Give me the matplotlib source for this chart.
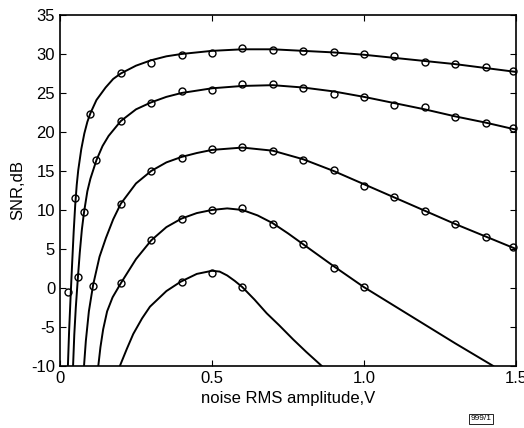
import matplotlib
matplotlib.use("Agg")
import matplotlib.pyplot as plt

plt.rcParams["font.family"] = ["Liberation Sans", "DejaVu Sans"]
plt.rcParams["axes.unicode_minus"] = False

# fitted curves
c1_x = [0.026, 0.030, 0.035, 0.040, 0.045, 0.050, 0.055, 0.060, 0.070, 0.080, 0.090,
        0.100, 0.120, 0.150, 0.175, 0.200, 0.250, 0.300, 0.350, 0.400, 0.500, 0.600,
        0.700, 0.800, 0.900, 1.000, 1.100, 1.200, 1.300, 1.400, 1.500]
c1_y = [-10, -5.5, -1.0, 3.2, 7.2, 10.6, 13.2, 15.1, 17.8, 19.8, 21.3,
        22.4, 24.1, 25.7, 26.8, 27.5, 28.5, 29.2, 29.7, 30.0, 30.4, 30.6,
        30.6, 30.4, 30.2, 29.9, 29.5, 29.1, 28.7, 28.2, 27.7]
c2_x = [0.043, 0.047, 0.052, 0.059, 0.065, 0.072, 0.079, 0.090, 0.100, 0.120, 0.140,
        0.160, 0.200, 0.250, 0.300, 0.350, 0.400, 0.500, 0.600, 0.700, 0.800, 0.900,
        1.000, 1.100, 1.200, 1.300, 1.400, 1.500]
c2_y = [-10, -6.0, -2.5, 1.4, 4.5, 7.5, 9.7, 12.4, 14.0, 16.4, 18.2,
        19.5, 21.4, 22.9, 23.8, 24.5, 25.0, 25.6, 25.9, 26.0, 25.7, 25.2,
        24.5, 23.7, 22.9, 22.0, 21.2, 20.3]
c3_x = [0.079, 0.085, 0.095, 0.109, 0.130, 0.151, 0.175, 0.200, 0.250, 0.300, 0.350,
        0.400, 0.450, 0.500, 0.600, 0.700, 0.800, 0.900, 1.000, 1.100, 1.200, 1.300,
        1.400, 1.500]
c3_y = [-10, -6.8, -3.0, 0.4, 4.0, 6.4, 8.8, 10.8, 13.4, 15.0, 16.1,
        16.8, 17.3, 17.7, 18.0, 17.6, 16.5, 15.0, 13.3, 11.6, 9.9, 8.2,
        6.6, 5.0]
c4_x = [0.126, 0.133, 0.142, 0.155, 0.173, 0.200, 0.250, 0.300, 0.350, 0.400, 0.450,
        0.500, 0.550, 0.600, 0.650, 0.700, 0.750, 0.800, 0.900, 1.000, 1.100, 1.200,
        1.300, 1.425]
c4_y = [-10, -7.6, -5.3, -3.0, -1.2, 0.6, 3.7, 6.1, 7.8, 8.9, 9.6,
        10.0, 10.2, 10.0, 9.3, 8.3, 7.0, 5.6, 2.8, 0.1, -2.3, -4.7,
        -7.1, -10]
c5_x = [0.197, 0.220, 0.241, 0.270, 0.296, 0.350, 0.397, 0.450, 0.500, 0.525, 0.550,
        0.575, 0.600, 0.640, 0.680, 0.720, 0.767, 0.810, 0.861]
c5_y = [-10, -7.8, -5.9, -3.9, -2.4, -0.4, 0.8, 1.8, 2.2, 2.1, 1.6,
        0.9, 0.1, -1.5, -3.25, -4.75, -6.6, -8.2, -10]

# measured points
m1_x = [0.027, 0.05, 0.1, 0.2, 0.3, 0.4, 0.5, 0.6, 0.7, 0.8, 0.9, 1.0, 1.1, 1.2, 1.3, 1.4, 1.49]
m1_y = [-0.5, 11.5, 22.3, 27.5, 28.9, 29.9, 30.1, 30.8, 30.5, 30.4, 30.2, 30.0, 29.7, 29.0, 28.7, 28.3, 27.8]
m2_x = [0.059, 0.08, 0.12, 0.2, 0.3, 0.4, 0.5, 0.6, 0.7, 0.8, 0.9, 1.0, 1.1, 1.2, 1.3, 1.4, 1.49]
m2_y = [1.4, 9.7, 16.4, 21.4, 23.7, 25.3, 25.4, 26.1, 26.2, 25.7, 24.9, 24.5, 23.5, 23.2, 21.9, 21.1, 20.5]
m3_x = [0.11, 0.2, 0.3, 0.4, 0.5, 0.6, 0.7, 0.8, 0.9, 1.0, 1.1, 1.2, 1.3, 1.4, 1.49]
m3_y = [0.3, 10.8, 15.0, 16.7, 17.8, 18.1, 17.5, 16.4, 15.1, 13.1, 11.7, 9.9, 8.2, 6.5, 5.3]
m4_x = [0.2, 0.3, 0.4, 0.5, 0.6, 0.7, 0.8, 0.9, 1.0]
m4_y = [0.6, 6.2, 8.9, 10.0, 10.2, 8.2, 5.6, 2.6, 0.1]
m5_x = [0.4, 0.5, 0.6]
m5_y = [0.7, 1.9, 0.1]

x_ticks = [0, 0.5, 1.0, 1.5]
x_labels = ["0", "0.5", "1.0", "1.5"]
y_ticks = list(range(-10, 36, 5))

fig = plt.figure(figsize=(5.24, 4.28), dpi=100)
ax = fig.add_axes([0.1145, 0.145, 0.8702, 0.82])

for cx, cy in [(c1_x, c1_y), (c2_x, c2_y), (c3_x, c3_y), (c4_x, c4_y), (c5_x, c5_y)]:
    ax.plot(cx, cy, color="black", lw=1.4, solid_joinstyle="round")
for mx, my in [(m1_x, m1_y), (m2_x, m2_y), (m3_x, m3_y), (m4_x, m4_y), (m5_x, m5_y)]:
    ax.plot(mx, my, "o", mfc="none", mec="black", ms=5, mew=1.0, clip_on=False)

ax.set_xlim(0, 1.5)
ax.set_ylim(-10, 35)
ax.set_xticks(x_ticks)
ax.set_xticklabels(x_labels)
ax.set_yticks(y_ticks)
ax.tick_params(direction="in", top=True, right=True, labelsize=12, length=4)
for s in ax.spines.values():
    s.set_linewidth(1.2)
ax.set_xlabel("noise RMS amplitude,V", fontsize=12)
ax.set_ylabel("SNR,dB", fontsize=12)

fig.text(0.918, 0.013, "999/1", fontsize=6, ha="center", va="bottom",
         bbox=dict(boxstyle="square,pad=0.15", fc="white", ec="black", lw=0.6))

fig.savefig("out.png", dpi=100)
